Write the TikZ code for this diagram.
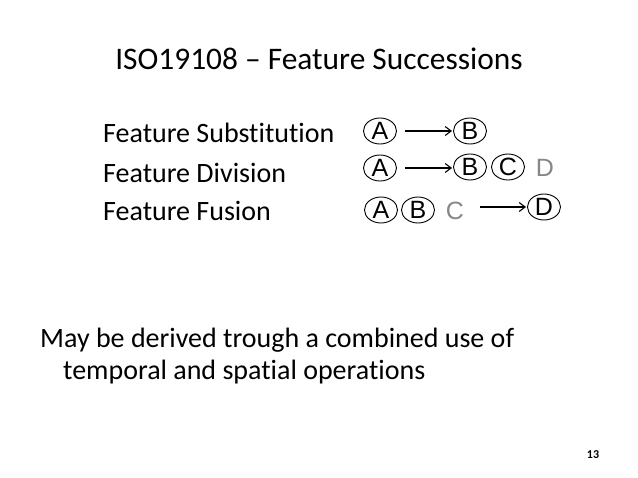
\documentclass[tikz,border=0pt]{standalone}
\usepackage{fontspec}
\setmainfont{Carlito}[Ligatures=NoCommon]
\newfontfamily\arialfont{Liberation Sans}
\usetikzlibrary{shapes.geometric,arrows.meta}
\definecolor{lettergray}{rgb}{0.53,0.53,0.53}
\tikzset{
  ring/.style={ellipse,draw,line width=0.9pt,minimum width=33pt,minimum height=26pt,inner sep=0pt,
    font=\arialfont\fontsize{25}{25}\selectfont},
  ghost/.style={inner sep=0pt,text=lettergray,font=\arialfont\fontsize{25}{25}\selectfont},
  succ/.style={line width=1.1pt,-{Straight Barb[length=6pt,width=9pt,line width=1.1pt]}},
  body/.style={anchor=base west,inner sep=0pt,font=\fontsize{28}{32}\selectfont},
}
\begin{document}
\begin{tikzpicture}[x=1pt,y=-1pt]
\useasboundingbox[fill=white] (0,0) rectangle (638,478);
\node[anchor=base,inner sep=0pt,font=\fontsize{31.4}{36}\selectfont] (title) at (319,70) {ISO19108 – Feature Successions};
\node[body] (t1) at (103,143) {Feature Substitution};
\node[body] (t2) at (103,183) {Feature Division};
\node[body] (t3) at (103,221) {Feature Fusion};
% row 1
\node[ring] (a1) at (380,131) {A};
\node[ring] (b1) at (470,131) {B};
\draw[succ] ([xshift=8pt]a1.east) -- ([xshift=-1pt]b1.west);
% row 2
\node[ring] (a2) at (380,168) {A};
\node[ring] (b2) at (470,167) {B};
\node[ring] (c2) at (508,167) {C};
\node[ghost] (d2) at (545,168) {D};
\draw[succ] ([xshift=8pt]a2.east) -- ([xshift=-1pt]a2.east -| b2.west);
% row 3
\node[ring] (a3) at (381,210) {A};
\node[ring] (b3) at (418,210) {B};
\node[ghost] (c3) at (455,211) {C};
\node[ring] (d3) at (544,207) {D};
\coordinate (s3) at (480,207);
\draw[succ] (s3) -- ([xshift=-1pt]d3.west);
% lower text
\node[body] (l1) at (40,348) {May be derived trough a combined use of};
\node[body] (l2) at (63,380) {temporal and spatial operations};
\node[anchor=base,inner sep=0pt,font=\bfseries\fontsize{12}{12}\selectfont] (pg) at (593,459) {13};
\end{tikzpicture}
\end{document}
